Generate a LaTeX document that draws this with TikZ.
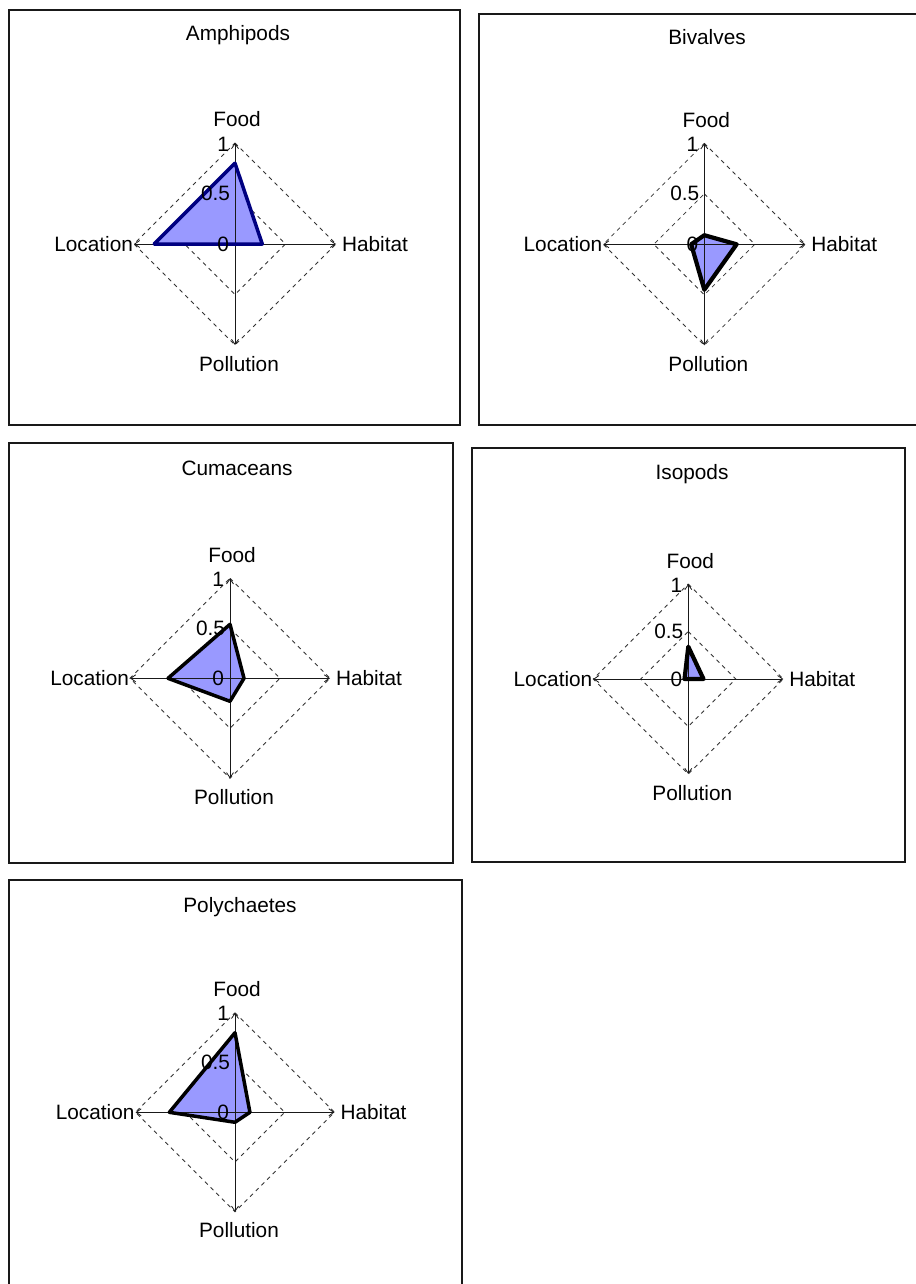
\documentclass[tikz,border=0pt]{standalone}
\usepackage{fontspec}
\setmainfont{Liberation Sans}
\usetikzlibrary{arrows.meta}
\definecolor{datafill}{RGB}{153,153,255}
\definecolor{navyline}{RGB}{0,0,128}
\tikzset{
  frame/.style={draw=black!90, line width=2pt},
  axisline/.style={draw=black!90, line width=1pt, -{Straight Barb[length=5pt,width=7pt,line width=0.8pt]}},
  ring/.style={draw=black!80, line width=0.85pt, dash pattern=on 4pt off 4pt},
  lbl/.style={font=\fontsize{20.8}{24}\selectfont, inner sep=0pt, outer sep=0pt},
  outline/.style={line width=3.5pt, line join=round},
}
\newcommand\radarpanel[9]{%
  \coordinate (#1c) at (#2,#3);
  \coordinate (#1N) at ({#2},{#3-#4});
  \coordinate (#1E) at ({#2+#4},{#3});
  \coordinate (#1S) at ({#2},{#3+#4});
  \coordinate (#1W) at ({#2-#4},{#3});
  \coordinate (#1n) at ({#2},{#3-0.5*#4});
  \coordinate (#1e) at ({#2+0.5*#4},{#3});
  \coordinate (#1s) at ({#2},{#3+0.5*#4});
  \coordinate (#1w) at ({#2-0.5*#4},{#3});
  \coordinate (#1pf) at ({#2},{#3-#4*#5});
  \coordinate (#1ph) at ({#2+#4*#6},{#3});
  \coordinate (#1pp) at ({#2},{#3+#4*#7});
  \coordinate (#1pl) at ({#2-#4*#8},{#3});
  \draw[ring] (#1N) -- (#1E) -- (#1S) -- (#1W) -- cycle;
  \draw[ring] (#1n) -- (#1e) -- (#1s) -- (#1w) -- cycle;
  \fill[datafill] (#1pf) -- (#1ph) -- (#1pp) -- (#1pl) -- cycle;
  \draw[axisline] (#1c) -- (#1N);
  \draw[axisline] (#1c) -- (#1E);
  \draw[axisline] (#1c) -- (#1S);
  \draw[axisline] (#1c) -- (#1W);
  \draw[outline, draw=#9] (#1pf) -- (#1ph) -- (#1pp) -- (#1pl) -- cycle;
  \node[lbl, anchor=base] (#1food) at ({#2+2},{#3-#4-16}) {Food};
  \node[lbl, anchor=base] (#1poll) at ({#2+4},{#3+#4+26}) {Pollution};
  \node[lbl, anchor=east] (#1loc) at ({#2-#4-1},{#3}) {Location};
  \node[lbl, anchor=west] (#1hab) at ({#2+#4+6},{#3}) {Habitat};
  \node[lbl, anchor=east] (#1t1) at ({#2-6},{#3-#4+1}) {1};
  \node[lbl, anchor=east] (#1t5) at ({#2-5},{#3-0.5*#4}) {0.5};
  \node[lbl, anchor=east] (#1t0) at ({#2-6},{#3}) {0};
}
\begin{document}
\begin{tikzpicture}[x=1pt,y=-1pt]
\useasboundingbox (0,0) rectangle (915,1284);
\fill[white] (0,0) rectangle (915,1284);
% frames
\draw[frame] (9.3,10) rectangle (459.5,425);
\draw[frame] (479.3,14) rectangle (918,425);
\draw[frame] (9.3,443.3) rectangle (452.7,863.3);
\draw[frame] (472.3,448.3) rectangle (905,861.7);
\draw[frame] (9.3,880) rectangle (461.7,1290);
% titles
\node[lbl, anchor=base] (tA) at (238,40.7) {Amphipods};
\node[lbl, anchor=base] (tB) at (707,44.3) {Bivalves};
\node[lbl, anchor=base] (tC) at (237,475) {Cumaceans};
\node[lbl, anchor=base] (tD) at (692,479) {Isopods};
\node[lbl, anchor=base] (tE) at (240,912.7) {Polychaetes};
% charts
\radarpanel{A}{235}{244}{101}{0.8}{0.27}{0}{0.8}{navyline}
\radarpanel{B}{704.3}{244.3}{101}{0.09}{0.32}{0.45}{0.13}{black, line width=4.2pt}
\radarpanel{C}{230}{678.3}{100}{0.54}{0.14}{0.23}{0.62}{black}
\radarpanel{D}{688.3}{679}{95}{0.34}{0.16}{0}{0.04}{black, line width=4.2pt}
\radarpanel{E}{235}{1112.3}{99.5}{0.8}{0.15}{0.1}{0.66}{black}
\end{tikzpicture}
\end{document}
